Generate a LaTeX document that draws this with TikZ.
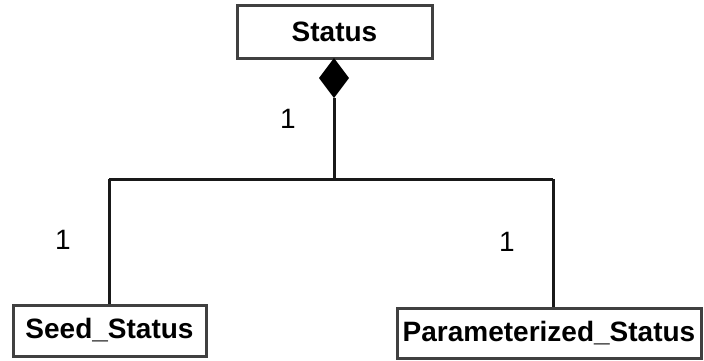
\documentclass[tikz,border=0pt]{standalone}
\usepackage{fontspec}
\setmainfont{Liberation Sans}
\begin{document}
\begin{tikzpicture}[x=1pt,y=-1pt,
  classbox/.style={draw=black!75,line width=3pt,fill=white,inner sep=0pt,
    font=\fontsize{28}{31}\selectfont\bfseries},
  link/.style={draw=black!90,line width=3pt},
  mult/.style={inner sep=0pt,font=\fontsize{28}{31}\selectfont}]
\useasboundingbox (0,0) rectangle (704,360);
% classes
\node[classbox,minimum width=195pt,minimum height=53pt] (status) at (334.5,31.5) {Status};
\node[classbox,minimum width=193pt,minimum height=51pt] (seed) at (109.5,330.5) {Seed\_Status};
\node[classbox,minimum width=304pt,minimum height=50pt] (param) at (549,333) {Parameterized\_Status};
% composition diamond under Status
\coordinate (dtop) at (334,58);
\coordinate (dbot) at (334,98);
\fill[black] (dtop) -- (349,78) -- (dbot) -- (319,78) -- cycle;
% tree of connectors
\coordinate (fork) at (334,179);
\coordinate (lcorner) at (109,179);
\coordinate (rcorner) at (553,179);
\draw[link] (dbot) -- (fork);
\draw[link,line join=miter] (lcorner) -- (rcorner);
\draw[link] (lcorner |- fork) -- (lcorner |- seed.north);
\draw[link] (rcorner |- fork) -- (rcorner |- param.north);
% multiplicities
\node[mult] (m1) at (288,119) {1};
\node[mult] (m2) at (63,240) {1};
\node[mult] (m3) at (507,242) {1};
\end{tikzpicture}
\end{document}
